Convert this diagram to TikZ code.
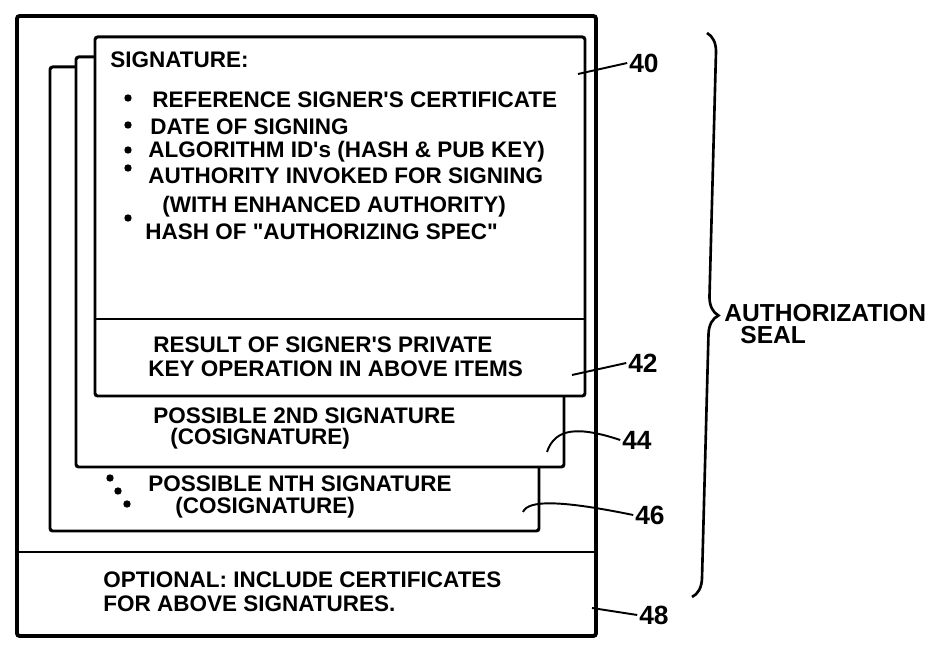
\documentclass[tikz,border=0pt]{standalone}
\usepackage{fontspec}
\setmainfont[Ligatures=TeXOff]{Liberation Sans}
\usetikzlibrary{positioning, fit, decorations.pathreplacing}

\tikzset{
  sheet/.style={draw, line width=1.7pt, fill=white, rounded corners=1.5pt, inner sep=0pt},
  rule/.style={line width=1.7pt},
  txt/.style={anchor=west, inner sep=0pt, font=\fontsize{12.8}{15}\selectfont\bfseries},
  refnum/.style={inner sep=1pt, font=\fontsize{15}{17}\selectfont\bfseries},
  lead/.style={line width=1.1pt},
  seallabel/.style={anchor=west, inner sep=0pt, font=\fontsize{14}{16}\selectfont\bfseries}
}

\begin{document}
\begin{tikzpicture}[x=0.02cm, y=-0.02cm]
\useasboundingbox (0,0) rectangle (938,651);

% stacked signature sheets, back to front
\node (outer) [sheet, line width=2.2pt, fit={(17,16) (596,636)}] {};
\coordinate (d48) at (0,552);
\draw [rule] (outer.west |- d48) -- (outer.east |- d48);
\node (third) [sheet, fit={(50,67) (539,531)}] {};
\node (second) [sheet, fit={(76,57) (564,467)}] {};
\node (front) [sheet, fit={(95,37) (585,396)}] {};
\coordinate (d40) at (0,319);
\draw [rule] (front.west |- d40) -- (front.east |- d40);

% signature block
\node (title) [txt] at (110,60) {SIGNATURE:};
\node (item1) [txt] at (152,100) {REFERENCE SIGNER'S CERTIFICATE};
\node (item2) [txt] at (150,127) {DATE OF SIGNING};
\node (item3) [txt] at (148,152) {ALGORITHM ID's (HASH \& PUB KEY)};
\node (item4) [txt] at (148,176) {AUTHORITY INVOKED FOR SIGNING};
\node (item4b) [txt] at (162,207) {(WITH ENHANCED AUTHORITY)};
\node (item5) [txt] at (145,232) {HASH OF "AUTHORIZING SPEC"};
\fill (128,98) circle (2.1pt);
\fill (128,125) circle (2.1pt);
\fill (128,150) circle (2.1pt);
\fill (128,168) circle (2.1pt);
\fill (128,218) circle (2.1pt);

\node (result1) [txt] at (153,345) {RESULT OF SIGNER'S PRIVATE};
\node (result2) [txt] at (148,369) {KEY OPERATION IN ABOVE ITEMS};

% further signatures
\node (cosig1) [txt] at (153,416) {POSSIBLE 2ND SIGNATURE};
\node (cosig1b) [txt] at (170,439) {(COSIGNATURE)};
\node (cosig2) [txt] at (148,484) {POSSIBLE NTH SIGNATURE};
\node (cosig2b) [txt] at (175,508) {(COSIGNATURE)};
\fill (110,478) circle (2.1pt);
\fill (118,491) circle (2.1pt);
\fill (127,504) circle (2.1pt);

% certificates
\node (cert1) [txt] at (103,580) {OPTIONAL: INCLUDE CERTIFICATES};
\node (cert2) [txt] at (103,604) {FOR ABOVE SIGNATURES.};

% reference numerals
\node (n40) [refnum] at (644,63) {40};
\node (n42) [refnum] at (643,363) {42};
\node (n44) [refnum] at (637,440) {44};
\node (n46) [refnum] at (650,515) {46};
\node (n48) [refnum] at (654,615) {48};

\coordinate (p40) at (578,74);
\coordinate (p42) at (572,375);
\coordinate (p44) at (547,452);
\coordinate (p46) at (523,512);
\coordinate (p48) at (592,608);
\draw [lead] (p40) -- (n40.west);
\draw [lead] (p42) -- (n42.west);
\draw [lead] (p44) .. controls (555,428) and (578,426) .. (n44.west);
\draw [lead] (p46) .. controls (528,500) and (560,500) .. (n46.west);
\draw [lead] (p48) -- (n48.west);

% brace
\coordinate (btop) at (707,33);
\coordinate (bbot) at (692,597);
\draw [line width=1.5pt, decorate, decoration={brace, amplitude=0.38cm}] (btop) -- (bbot);
\node (seal1) [seallabel] at (724,313) {AUTHORIZATION};
\node (seal2) [seallabel] at (740,335) {SEAL};

\end{tikzpicture}
\end{document}
